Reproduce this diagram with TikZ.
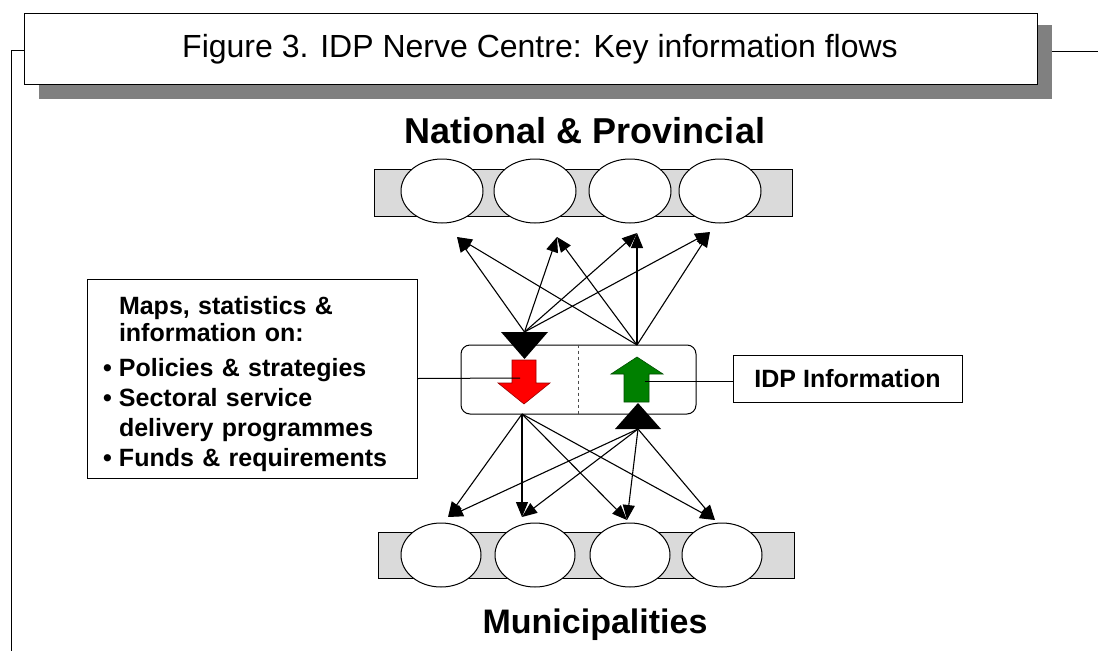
\documentclass[tikz,border=0pt]{standalone}
\usepackage{fontspec}
\setmainfont{Liberation Sans}
\usetikzlibrary{arrows.meta,shapes.geometric}
\definecolor{shadowgray}{HTML}{808080}
\definecolor{bargray}{HTML}{DADADA}
\definecolor{downred}{HTML}{FF0000}
\definecolor{upgreen}{HTML}{008000}
\begin{document}
\begin{tikzpicture}[x=1pt,y=-1pt,
  thinline/.style={line width=1pt},
  flow/.style={line width=1.1pt,-{Triangle[length=15pt,width=12pt]}},
  bar/.style={draw,line width=1pt,fill=bargray,inner sep=0pt},
  oval/.style={ellipse,draw,line width=1pt,fill=white,inner sep=0pt,minimum width=82pt,minimum height=64pt},
  plainbox/.style={draw,line width=1pt,fill=white,inner sep=0pt},
  heading/.style={font=\fontsize{36}{43}\selectfont\bfseries}]

\useasboundingbox (0,0) rectangle (1098,651);
\fill[white] (0,0) rectangle (1098,651);

% outer frame and title banner
\coordinate (frTL) at (11,50);
\coordinate (frBL) at (11,651);
\coordinate (frTR) at (1098,51);
\coordinate (frGap) at (1052,51);
\fill[shadowgray] (39,25) rectangle (1052,99);
\node[plainbox,anchor=north west,minimum width=1013pt,minimum height=71pt,
      font=\fontsize{32}{38}\selectfont] (title) at (24,13)
      {\hspace*{18pt}Figure 3. IDP Nerve Centre: Key information flows};
\draw[thinline] (title.west |- frTL) -- (frTL) -- (frBL);
\draw[thinline] (frGap) -- (frTR);

% national & provincial row
\node[heading] (natlabel) at (585,131) {National \& Provincial};
\node[bar,minimum width=418pt,minimum height=47pt] (topbar) at (583,192.5) {};
\node[oval] (n1) at (442,191) {};
\node[oval] (n2) at (535,191) {};
\node[oval] (n3) at (630,191) {};
\node[oval] (n4) at (720,191) {};

% municipalities row
\node[bar,minimum width=416pt,minimum height=46pt] (botbar) at (586,555) {};
\node[oval,minimum width=80pt] (m1) at (441,555) {};
\node[oval,minimum width=80pt] (m2) at (535,555) {};
\node[oval,minimum width=80pt] (m3) at (630,555) {};
\node[oval,minimum width=80pt] (m4) at (722,555) {};
\node[heading,font=\fontsize{34}{41}\selectfont\bfseries] (munlabel) at (595,625) {Municipalities};

% nerve centre hub
\node[draw,line width=1pt,rounded corners=9pt,minimum width=235pt,minimum height=69pt] (hub) at (578.5,379.5) {};
\draw[line width=0.8pt,dashed,black!70] (hub.north) -- (hub.south);

% outgoing (red) and incoming (green) block arrows
\filldraw[fill=downred,draw=red!60!black,line width=0.6pt]
  (512,360) -- (536,360) -- (536,383) -- (550,383) -- (524,404) -- (498,383) -- (512,383) -- cycle;
\filldraw[fill=upgreen,draw=upgreen!60!black,line width=0.6pt]
  (624,402) -- (649,402) -- (649,374) -- (663,374) -- (637,357) -- (611,374) -- (624,374) -- cycle;
\coordinate (redc) at (520,378);
\coordinate (greenc) at (645,381);

% big black triangles at the hub
\fill (501,332) -- (548,332) -- (524.5,359) -- cycle;
\fill (615,429) -- (661,429) -- (638,403) -- cycle;

% upward flows
\coordinate (sL) at (524.5,332);
\coordinate (sR) at (637,345);
\coordinate (t1) at (457,237);
\coordinate (t2) at (557,237);
\coordinate (t3) at (637,233);
\coordinate (t4) at (710,232);
\foreach \t in {t1,t2,t3,t4}{
  \draw[flow] (sL) -- (\t);
  \draw[flow] (sR) -- (\t);
}

% downward flows
\coordinate (bL) at (522,414);
\coordinate (bR) at (638,429);
\coordinate (d1) at (448,517);
\coordinate (d2) at (522,517);
\coordinate (d3) at (627,520);
\coordinate (d4) at (715,520);
\foreach \d in {d1,d2,d3,d4}{
  \draw[flow] (bL) -- (\d);
  \draw[flow] (bR) -- (\d);
}

% information boxes
\node[plainbox,minimum width=330pt,minimum height=199pt,text width=298pt,
      inner xsep=16pt,align=left,font=\fontsize{25}{30}\selectfont\bfseries] (leftbox) at (252,378.5)
  {\rule{0pt}{29pt}\hspace*{16pt}Maps, statistics \&\\[-3pt]
   \hspace*{16pt}information on:\\[5pt]
   \makebox[16pt][l]{\textbullet}Policies \& strategies\\
   \makebox[16pt][l]{\textbullet}Sectoral service\\
   \hspace*{16pt}delivery programmes\\
   \makebox[16pt][l]{\textbullet}Funds \& requirements};
\draw[thinline] (leftbox.east) -- (redc);

\node[plainbox,minimum width=229pt,minimum height=47pt,
      font=\fontsize{25}{30}\selectfont\bfseries] (idp) at (847.5,378.5) {IDP Information};
\draw[thinline] (idp.west |- greenc) -- (greenc);

\end{tikzpicture}
\end{document}
